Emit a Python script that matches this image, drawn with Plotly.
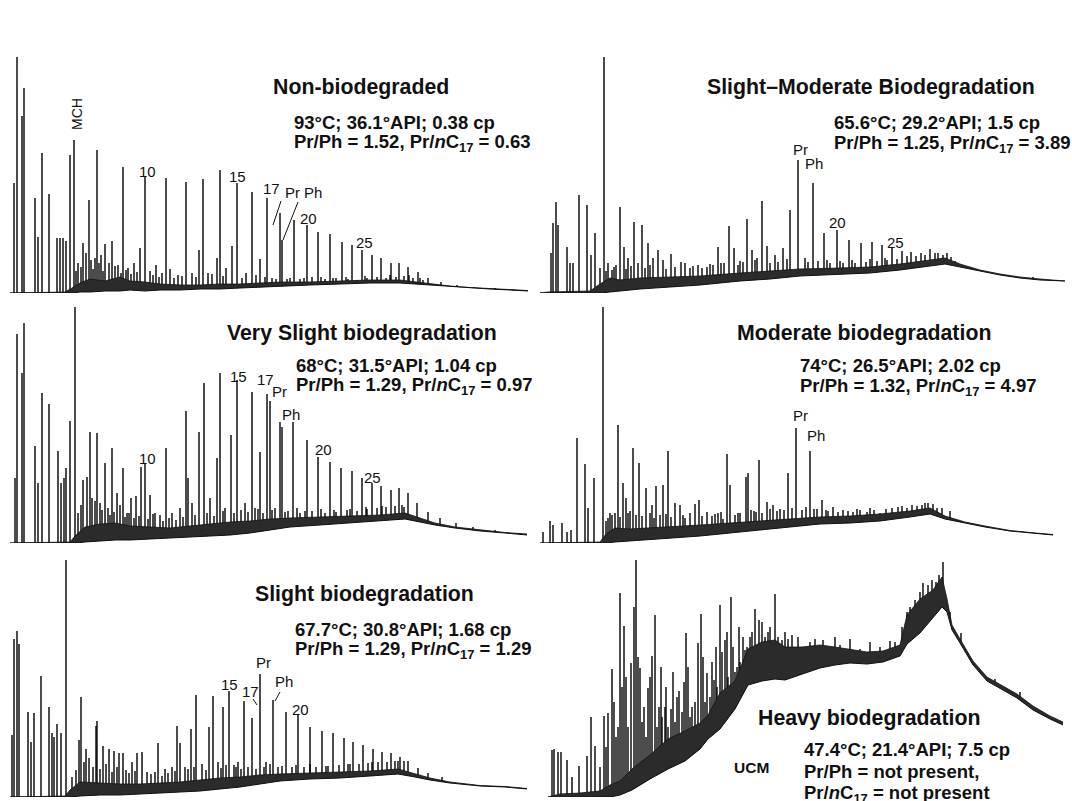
import plotly.graph_objects as go

FONT = "Liberation Sans, Arial, Helvetica, sans-serif"
W, H = 1072, 801
INK = "#111111"

# ---------------- Non-biodegraded (top left) ----------------
nb_peak_rt = [4, 7, 12, 14, 25, 28, 32, 39, 47, 50, 53, 56, 60, 64, 73, 79, 87, 95, 102, 113,
              130, 135, 156, 176, 193, 210, 222, 227, 242, 250, 257, 270, 272, 284, 297, 308,
              320, 332, 342, 352, 362, 371, 381, 389, 398, 408, 418, 431, 447, 464, 485, 503,
              68, 76, 85, 91, 99, 108, 118, 124, 140, 146, 152, 160, 168, 182, 189, 198, 207,
              216, 236, 246, 262, 277, 290, 302, 315, 326, 338, 347, 357, 367, 376, 386, 394, 403, 413,
              66, 71, 81, 83, 89, 93, 105, 111, 116, 121, 127, 143, 149, 164, 172, 186, 202, 213,
              232, 255, 266, 280, 294, 311, 323, 336, 355, 380, 399, 410]
nb_peak_h = [110, 236, 177, 205, 95, 56, 140, 99, 55, 55, 55, 52, 138, 153, 50, 93, 143, 49, 52, 126,
             45, 116, 115, 111, 114, 123, 47, 110, 101, 34, 95, 80, 53, 73, 68, 61,
             59, 51, 48, 43, 38, 35, 30, 30, 26, 21, 15, 11, 8, 6, 5, 4,
             30, 40, 35, 38, 30, 28, 25, 30, 22, 28, 20, 24, 18, 20, 43, 20, 35,
             25, 20, 18, 15, 14, 14, 16, 14, 15, 14, 13, 15, 16, 15, 16, 17, 15, 13,
             22, 26, 33, 24, 30, 22, 27, 20, 23, 19, 21, 18, 16, 15, 17, 16, 19, 17,
             15, 16, 14, 15, 15, 16, 15, 16, 17, 18, 18, 15]
nb_base_rt = [0, 55, 62, 70, 80, 95, 110, 120, 135, 150, 170, 190, 210, 230, 250, 270, 300, 330,
              360, 390, 405, 420, 440, 460, 480, 500, 518]
nb_base_lo = [0, 0, 0, 1, 1, 2, 2, 3, 2, 3, 3, 4, 4, 5, 6, 7, 8, 9, 10, 10, 9, 8, 6, 5, 4, 3, 2]
nb_base_hi = [0, 1, 5, 10, 14, 12, 16, 12, 11, 9, 8, 8, 9, 9, 10, 11, 11, 12, 13, 13, 11, 9, 7, 5.5, 4.5, 3.5, 2.5]

# ---------------- Slight-Moderate (top right) ----------------
sm_peak_rt = [11, 13, 16, 18, 27, 30, 33, 39, 47, 51, 55, 64, 72, 80, 84, 94, 102, 108, 113, 118,
              123, 131, 141, 145, 158, 167, 178, 189, 194, 207, 212, 222, 227, 235, 243, 250, 258,
              273, 284, 297, 309, 321, 332, 342, 352, 362, 371, 381, 390, 398, 407, 415, 440, 493,
              60, 68, 76, 88, 98, 150, 173, 184, 200, 217, 230, 265, 278, 290, 303, 315, 326, 337,
              347, 357, 376, 385, 403, 422,
              66, 74, 86, 91, 105, 110, 126, 135, 153, 162, 170, 181, 198, 203, 215, 238, 247,
              268, 287, 300, 312, 330, 345, 367, 395, 411, 430]
sm_peak_h = [40, 70, 91, 68, 46, 30, 30, 98, 88, 38, 60, 236, 23, 86, 46, 71, 68, 50, 35, 43,
             33, 39, 31, 30, 28, 26, 46, 67, 45, 74, 43, 92, 47, 38, 45, 83, 133,
             110, 60, 63, 53, 50, 51, 48, 45, 42, 41, 40, 44, 40, 40, 32, 23, 16,
             25, 30, 28, 35, 30, 25, 28, 30, 32, 35, 30, 35, 32, 30, 30, 30, 31, 32,
             33, 34, 37, 38, 38, 28,
             22, 26, 24, 27, 25, 28, 24, 26, 27, 25, 29, 30, 28, 31, 33, 31, 34,
             31, 33, 32, 33, 34, 35, 37, 40, 36, 26]
sm_base_rt = [0, 8, 50, 60, 70, 80, 100, 130, 160, 200, 230, 260, 300, 330, 360, 390, 405, 420,
              440, 460, 480, 500, 525]
sm_base_lo = [0, 0, 0, 0, 1, 2, 4, 6, 8, 12, 14, 17, 19, 20, 23, 27, 29, 26, 22, 18, 15, 13, 12]
sm_base_hi = [0, 1, 2, 9, 15, 13, 15, 16, 17, 20, 22, 24, 25, 26, 29, 33, 35, 29, 23, 19, 16, 14, 12]

# ---------------- Very Slight (middle left) ----------------
vs_peak_rt = [5, 7, 12, 14, 25, 28, 32, 39, 48, 51, 54, 56, 60, 65, 73, 77, 80, 87, 95, 102,
              107, 113, 121, 126, 131, 135, 140, 156, 162, 176, 178, 189, 194, 207, 210, 221,
              227, 242, 250, 257, 260, 270, 272, 283, 297, 308, 320, 331, 342, 352, 362, 371,
              381, 389, 398, 407, 418, 430, 446, 463, 485, 510,
              82, 90, 98, 110, 117, 145, 150, 170, 182, 200, 215, 235, 245, 253, 265, 278, 290,
              302, 315, 326, 337, 347, 357, 367, 376, 385, 394,
              68, 71, 85, 92, 100, 104, 115, 119, 124, 129, 138, 143, 153, 159, 166, 173, 185,
              197, 204, 213, 224, 231, 238, 248, 262, 275, 287, 295, 311, 324, 340, 356, 372, 392]
vs_peak_h = [65, 209, 170, 220, 97, 60, 150, 139, 92, 60, 65, 75, 122, 236, 63, 66, 111, 110, 80, 95,
             50, 75, 45, 47, 76, 79, 48, 95, 30, 132, 65, 111, 160, 85, 170, 108,
             163, 151, 91, 149, 142, 121, 116, 121, 103, 86, 81, 75, 72, 65, 60, 57,
             53, 55, 50, 40, 31, 25, 20, 16, 13, 10,
             45, 40, 35, 38, 30, 30, 28, 35, 40, 45, 35, 40, 35, 30, 35, 32, 30,
             32, 30, 31, 33, 32, 34, 35, 36, 37, 36,
             30, 38, 42, 33, 28, 31, 26, 30, 25, 27, 24, 29, 22, 25, 23, 26, 28,
             30, 27, 32, 30, 33, 31, 34, 33, 31, 35, 32, 34, 33, 34, 36, 37, 38]
vs_base_rt = [0, 60, 65, 75, 90, 105, 120, 140, 160, 180, 200, 220, 240, 260, 280, 310, 340, 370,
              395, 410, 425, 445, 470, 495, 517]
vs_base_lo = [0, 0, 0, 1, 2, 3, 3, 4, 5, 6, 7, 8, 10, 13, 16, 18, 20, 22, 24, 21, 18, 15, 12, 10, 8]
vs_base_hi = [0, 1, 7, 16, 19, 20, 17, 16, 15, 17, 19, 21, 22, 24, 25, 26, 27, 28, 30, 25, 20, 16, 13, 10.5, 9]

# ---------------- Moderate (middle right) ----------------
mo_peak_rt = [3, 10, 13, 22, 27, 31, 37, 45, 48, 54, 63, 70, 78, 83, 86, 93, 99, 106, 112, 116,
              123, 128, 135, 140, 155, 159, 167, 178, 187, 190, 206, 208, 219, 227, 233, 240,
              248, 256, 270, 282, 293, 303, 313, 327, 340, 352, 367, 377, 388, 397, 445, 463,
              68, 75, 90, 96, 110, 120, 145, 150, 172, 183, 195, 200, 214, 222, 237, 262, 277,
              288, 298, 308, 320, 334, 346, 358, 372, 382, 393, 402,
              66, 72, 80, 88, 102, 114, 126, 131, 143, 162, 175, 181, 198, 211, 216, 230, 244,
              252, 266, 274, 286, 317, 330, 362, 385, 410]
mo_peak_h = [11, 22, 18, 20, 11, 13, 105, 79, 35, 65, 236, 30, 118, 60, 45, 95, 80, 55, 38, 57,
             58, 92, 40, 38, 39, 43, 31, 30, 89, 58, 66, 70, 83, 41, 38, 34,
             70, 115, 92, 43, 36, 33, 31, 31, 30, 35, 35, 37, 40, 35, 16, 13,
             25, 30, 32, 28, 30, 28, 25, 30, 27, 24, 28, 30, 32, 30, 32, 33, 34,
             32, 31, 32, 33, 33, 34, 36, 38, 38, 39, 35,
             22, 28, 26, 30, 27, 25, 29, 26, 28, 27, 29, 31, 30, 33, 31, 34, 33,
             35, 36, 34, 33, 34, 35, 37, 40, 32]
mo_base_rt = [0, 60, 66, 75, 90, 110, 130, 160, 190, 220, 250, 280, 310, 340, 370, 390, 405, 425,
              445, 470, 490, 513]
mo_base_lo = [0, 0, 0, 1, 2, 3, 5, 7, 10, 13, 16, 19, 20, 22, 26, 29, 24, 20, 16, 12, 10, 8]
mo_base_hi = [0, 1, 9, 15, 14, 15, 16, 18, 20, 22, 24, 26, 27, 29, 32, 35, 27, 21, 17, 12.5, 10.5, 8.5]

# ---------------- Slight (bottom left) ----------------
sl_peak_rt = [2, 4, 7, 9, 18, 21, 24, 31, 39, 42, 44, 47, 51, 56, 69, 71, 76, 79, 86, 87,
              93, 99, 104, 109, 113, 122, 127, 132, 137, 148, 167, 170, 181, 186, 199, 203,
              213, 219, 228, 234, 242, 250, 263, 276, 288, 300, 312, 323, 334, 343, 353, 363,
              372, 381, 390, 398, 408, 418, 432,
              145, 155, 162, 175, 192, 208, 224, 238, 246, 256, 268, 282, 294, 306, 318, 329,
              340, 349, 358, 368, 377, 385, 394,
              62, 66, 74, 83, 90, 96, 102, 107, 116, 119, 125, 141, 152, 158, 165, 178, 184,
              196, 211, 216, 226, 231, 254, 260, 272, 286, 300, 316, 338, 362, 388]
sl_peak_h = [62, 158, 166, 153, 85, 55, 84, 121, 90, 64, 60, 73, 64, 237, 57, 100, 48, 39, 71, 76,
             51, 48, 46, 44, 44, 35, 44, 45, 25, 54, 71, 54, 68, 102, 70, 101,
             90, 106, 35, 96, 79, 123, 97, 85, 82, 70, 66, 64, 59, 55, 52, 48,
             45, 44, 40, 36, 29, 24, 20,
             25, 28, 30, 30, 33, 35, 32, 30, 28, 35, 30, 30, 30, 30, 31, 32,
             33, 33, 34, 35, 35, 36, 36,
             20, 27, 35, 30, 28, 33, 25, 30, 27, 24, 26, 23, 21, 24, 26, 28, 30,
             27, 29, 32, 30, 28, 30, 33, 31, 32, 33, 31, 33, 35, 36]
sl_base_rt = [0, 55, 60, 70, 90, 110, 130, 150, 170, 190, 210, 230, 250, 270, 300, 330, 360, 388,
              405, 420, 440, 470, 495, 517]
sl_base_lo = [0, 0, 0, 1, 2, 2, 3, 4, 5, 6, 8, 10, 13, 16, 18, 19, 21, 23, 20, 17, 14, 11, 10, 8]
sl_base_hi = [0, 1, 7, 15, 14, 13, 13, 14, 15, 17, 19, 20, 22, 23, 24, 25, 26, 28, 23, 19, 15, 11.5, 10.5, 8.5]

# ---------------- Heavy (bottom right) ----------------
hv_peak_rt = [12, 14, 18, 21, 27, 32, 39, 47, 51, 55, 64, 68, 72, 80, 84, 91, 94, 96, 100, 104,
              108, 112, 115, 119, 125, 131, 139, 146, 152, 158, 161, 167, 174, 180, 185, 191,
              197, 205, 215, 219, 225, 235, 242, 252, 260, 283, 367, 375, 383, 392, 399, 403, 421,
              60, 76, 88, 102, 106, 117, 122, 128, 135, 142, 150, 155, 165, 170, 177, 188, 195,
              200, 210, 228, 238, 248, 255, 270, 290, 300, 320, 340, 355, 362,
              66, 74, 78, 82, 86, 98, 110, 121, 126, 133, 137, 144, 148, 163, 172, 176, 182,
              187, 193, 199, 203, 207, 212, 222, 230, 245, 258, 275, 295, 310, 330, 350, 370,
              380, 388, 396, 410, 430, 455, 480]
hv_peak_h = [47, 48, 45, 45, 37, 20, 31, 41, 80, 51, 81, 84, 128, 204, 171, 134, 190, 237, 129, 90,
             109, 141, 182, 90, 90, 88, 106, 164, 90, 154, 183, 124, 117, 192, 157, 200,
             130, 147, 188, 177, 160, 203, 157, 162, 150, 157, 185, 197, 214, 217, 222, 235, 164,
             30, 60, 70, 75, 60, 70, 80, 70, 75, 85, 80, 95, 95, 100, 110, 120, 125,
             135, 160, 165, 160, 158, 150, 155, 150, 152, 148, 150, 155, 170,
             50, 95, 70, 110, 120, 140, 120, 130, 110, 125, 100, 115, 130, 140, 135, 150, 145,
             165, 150, 170, 160, 150, 165, 175, 170, 165, 160, 158, 160, 158, 155, 156, 190,
             205, 212, 215, 185, 140, 118, 105]
hv_base_rt = [8, 20, 40, 60, 70, 80, 92, 110, 128, 145, 160, 168, 180, 195, 208, 222, 235, 245,
              262, 280, 295, 310, 327, 343, 360, 367, 380, 393, 402, 407, 412, 420, 433, 447,
              460, 477, 493, 510, 523]
hv_base_lo = [0, 0, 0, 0, 0, 2, 7, 18, 28, 36, 48, 58, 68, 88, 112, 116, 118, 117,
              123, 129, 132, 134, 133, 135, 141, 153, 164, 180, 190, 185, 167, 154, 132, 116,
              109, 99, 87, 78, 72]
hv_base_hi = [0, 3, 4, 6, 12, 16, 28, 42, 58, 66, 74, 82, 104, 116, 148, 155, 157, 150,
              150, 152, 150, 148, 145, 146, 152, 182, 198, 207, 220, 198, 172, 158, 136, 120,
              113, 103, 91, 81, 75]

# ---------------- texts ----------------
titles = ["Non-biodegraded", "Slight\u2013Moderate Biodegradation", "Very Slight biodegradation",
          "Moderate biodegradation", "Slight biodegradation", "Heavy biodegradation"]
stats1 = ["93\u00b0C; 36.1\u00b0API; 0.38 cp", "65.6\u00b0C; 29.2\u00b0API; 1.5 cp",
          "68\u00b0C; 31.5\u00b0API; 1.04 cp", "74\u00b0C; 26.5\u00b0API; 2.02 cp",
          "67.7\u00b0C; 30.8\u00b0API; 1.68 cp", "47.4\u00b0C; 21.4\u00b0API; 7.5 cp"]
prph = ["1.52", "1.25", "1.29", "1.32", "1.29", None]
prc17 = ["0.63", "3.89", "0.97", "4.97", "1.29", None]

# peak labels per panel: (text, rt, height, rotated)
nb_labels = [("MCH", 67, 179, True), ("10", 137, 122, False), ("15", 227, 117, False),
             ("17", 261, 105, False), ("Pr", 282, 101, False), ("Ph", 303, 101, False),
             ("20", 298, 75, False), ("25", 354, 51, False)]
sm_labels = [("MCH", 64, 262, True), ("Pr", 260, 144, False), ("Ph", 274, 130, False),
             ("20", 297, 71, False), ("25", 355, 51, False)]
vs_labels = [("10", 137, 85, False), ("15", 228, 167, False), ("17", 255, 164, False),
             ("Pr", 269, 152, False), ("Ph", 281, 129, False), ("20", 313, 94, False),
             ("25", 362, 66, False)]
mo_labels = [("Pr", 260, 128, False), ("Ph", 276, 108, False)]
sl_labels = [("15", 219, 113, False), ("17", 240, 106, False), ("Pr", 253, 135, False),
             ("Ph", 274, 116, False), ("20", 290, 88, False)]
hv_labels = []

# leader lines (rt0, h0, rt1, h1)
nb_leaders = [(271, 92, 263, 68), (288, 91, 273, 53)]
sl_leaders = [(270, 105, 265, 96), (243, 98, 247, 92)]

panels = [
    dict(rt=nb_peak_rt, h=nb_peak_h, brt=nb_base_rt, lo=nb_base_lo, hi=nb_base_hi, col=0, row=0,
         labels=nb_labels, leaders=nb_leaders),
    dict(rt=sm_peak_rt, h=sm_peak_h, brt=sm_base_rt, lo=sm_base_lo, hi=sm_base_hi, col=1, row=0,
         labels=sm_labels, leaders=[]),
    dict(rt=vs_peak_rt, h=vs_peak_h, brt=vs_base_rt, lo=vs_base_lo, hi=vs_base_hi, col=0, row=1,
         labels=vs_labels, leaders=[]),
    dict(rt=mo_peak_rt, h=mo_peak_h, brt=mo_base_rt, lo=mo_base_lo, hi=mo_base_hi, col=1, row=1,
         labels=mo_labels, leaders=[]),
    dict(rt=sl_peak_rt, h=sl_peak_h, brt=sl_base_rt, lo=sl_base_lo, hi=sl_base_hi, col=0, row=2,
         labels=sl_labels, leaders=sl_leaders),
    dict(rt=hv_peak_rt, h=hv_peak_h, brt=hv_base_rt, lo=hv_base_lo, hi=hv_base_hi, col=1, row=2,
         labels=hv_labels, leaders=[]),
]

# layout geometry (pixels)
COL_X = [(10, 530), (540, 1068)]
ROW_BOTTOM = [293, 543, 797]
PANEL_H = 250

fig = go.Figure()
annotations = []
shapes = []
layout_axes = {}

for i, p in enumerate(panels):
    k = i + 1
    xa = "x" if k == 1 else f"x{k}"
    ya = "y" if k == 1 else f"y{k}"
    x0, x1 = COL_X[p["col"]]
    yb = ROW_BOTTOM[p["row"]]
    layout_axes["xaxis" if k == 1 else f"xaxis{k}"] = dict(
        domain=[x0 / W, x1 / W], range=[0, x1 - x0], visible=False, fixedrange=True,
        anchor=ya)
    layout_axes["yaxis" if k == 1 else f"yaxis{k}"] = dict(
        domain=[1 - yb / H, 1 - (yb - PANEL_H) / H], range=[0, PANEL_H], visible=False,
        fixedrange=True, anchor=xa)

    xs, ys = [], []
    for r, hh in zip(p["rt"], p["h"]):
        xs += [r, r, None]
        ys += [0, hh, None]
    fig.add_trace(go.Scatter(x=xs, y=ys, mode="lines", line=dict(color="#000000", width=1.4),
                             xaxis=xa, yaxis=ya, hoverinfo="skip", cliponaxis=False))
    fig.add_trace(go.Scatter(x=p["brt"], y=p["lo"], mode="lines", line=dict(width=0),
                             fill="tozeroy", fillcolor="white", xaxis=xa, yaxis=ya,
                             hoverinfo="skip"))
    fig.add_trace(go.Scatter(x=p["brt"], y=p["lo"], mode="lines", line=dict(color=INK, width=1),
                             xaxis=xa, yaxis=ya, hoverinfo="skip"))
    fig.add_trace(go.Scatter(x=p["brt"], y=p["hi"], mode="lines", line=dict(color=INK, width=0.8),
                             fill="tonexty", fillcolor="#2b2b2b", xaxis=xa, yaxis=ya,
                             hoverinfo="skip"))

    for (txt, r, hh, rot) in p["labels"]:
        annotations.append(dict(text=txt, x=r, y=hh, xref=xa, yref=ya, showarrow=False,
                                textangle=-90 if rot else 0,
                                font=dict(family=FONT, size=14 if rot else 15, color=INK),
                                xanchor="center", yanchor="middle"))
    for (a, b, c, d) in p["leaders"]:
        shapes.append(dict(type="line", xref=xa, yref=ya, x0=a, y0=b, x1=c, y1=d,
                           line=dict(color=INK, width=1)))


def px(v):
    return v / W


def py(v):
    return 1 - v / H


# (title centre x, title y, stats left x, line1 y, line2 y)
text_pos = [(361, 87, 292, 122, 143), (871, 87, 832, 123, 144), (362, 333, 294, 365, 386),
            (864, 333, 798, 365, 387), (364, 594, 293, 629, 650), (869, 718, 802, 749, 771)]

for i, (tx, ty, sx, l1, l2) in enumerate(text_pos):
    annotations.append(dict(text=f"<b>{titles[i]}</b>", x=px(tx), y=py(ty), xref="paper",
                            yref="paper", showarrow=False, xanchor="center", yanchor="middle",
                            font=dict(family=FONT, size=21.3, color=INK)))
    annotations.append(dict(text=f"<b>{stats1[i]}</b>", x=px(sx), y=py(l1), xref="paper",
                            yref="paper", showarrow=False, xanchor="left", yanchor="middle",
                            font=dict(family=FONT, size=18.5, color=INK)))
    if prph[i] is not None:
        line2 = f"<b>Pr/Ph = {prph[i]}, Pr/<i>n</i>C<sub>17</sub> = {prc17[i]}</b>"
        annotations.append(dict(text=line2, x=px(sx), y=py(l2), xref="paper", yref="paper",
                                showarrow=False, xanchor="left", yanchor="middle",
                                font=dict(family=FONT, size=18.5, color=INK)))
    else:
        annotations.append(dict(text="<b>Pr/Ph = not present,</b>", x=px(sx), y=py(l2),
                                xref="paper", yref="paper", showarrow=False, xanchor="left",
                                yanchor="middle", font=dict(family=FONT, size=18.5, color=INK)))
        annotations.append(dict(text="<b>Pr/<i>n</i>C<sub>17</sub> = not present</b>", x=px(sx),
                                y=py(794), xref="paper", yref="paper", showarrow=False,
                                xanchor="left", yanchor="middle",
                                font=dict(family=FONT, size=18.5, color=INK)))

annotations.append(dict(text="<b>UCM</b>", x=px(751), y=py(767), xref="paper", yref="paper",
                        showarrow=False, xanchor="center", yanchor="middle",
                        font=dict(family=FONT, size=15.5, color=INK)))

fig.update_layout(width=W, height=H, margin=dict(l=0, r=0, t=0, b=0),
                  paper_bgcolor="white", plot_bgcolor="white", showlegend=False,
                  annotations=annotations, shapes=shapes, **layout_axes)

fig.write_html("out.html")
